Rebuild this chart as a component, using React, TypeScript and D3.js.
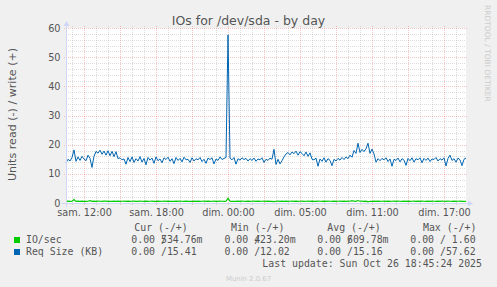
import React from 'react';
import * as d3 from 'd3';

const W = 497;
const H = 287;
const TITLE = 'IOs for /dev/sda - by day';
const Y_LABEL = 'Units read (-) / write (+)';
const START_HOUR = -1.5; // hours relative to "sam. 12:00"
const STEP_HOURS = 1 / 6;
const END_HOUR = 31.8333;

const reqSizeWrite = [
  13.8, 15.0, 14.4, 15.6, 18.2, 14.3, 15.8, 14.6, 16.0, 15.1,
  14.5, 16.4, 15.3, 12.2, 16.0, 17.7, 17.1, 18.1, 16.7, 17.8,
  16.4, 17.9, 16.2, 17.7, 15.9, 17.6, 15.2, 15.5, 14.8, 15.1,
  13.3, 15.6, 14.2, 15.8, 13.9, 15.2, 14.4, 15.9, 14.0, 15.3,
  13.1, 15.6, 14.7, 15.4, 13.6, 15.8, 14.5, 15.1, 13.8, 15.5,
  14.9, 15.7, 14.3, 15.2, 13.5, 15.6, 14.6, 15.3, 14.1, 15.7,
  14.8, 15.0, 13.9, 15.5, 14.4, 15.2, 14.8, 15.6, 14.2, 15.0,
  13.6, 15.4, 14.9, 15.5, 13.4, 15.1, 14.6, 15.8, 14.9, 15.3,
  15.6, 57.62, 15.4, 14.8, 15.6, 13.3, 15.2, 14.7, 15.5, 14.9,
  15.3, 14.4, 15.2, 14.6, 15.4, 14.3, 15.1, 14.8, 15.5, 13.9,
  15.0, 14.6, 15.4, 15.0, 18.4, 13.2, 15.0, 13.4, 14.5, 15.8,
  16.8, 17.3, 16.5, 17.5, 16.9, 17.8, 16.4, 17.6, 17.0, 16.2,
  17.5, 16.0, 17.2, 15.0, 14.8, 15.4, 12.6, 15.1, 14.3, 15.5,
  14.0, 15.2, 14.6, 12.8, 15.0, 14.4, 15.3, 14.7, 15.6, 14.9,
  15.8, 15.2, 16.4, 15.7, 18.0, 17.0, 20.5, 17.3, 18.4, 17.6,
  18.6, 20.5, 17.0, 18.5, 16.8, 14.0, 15.2, 14.5, 15.3, 14.8,
  15.5, 14.2, 15.1, 12.6, 15.0, 14.6, 15.4, 14.1, 15.2, 14.7,
  12.9, 15.3, 14.5, 15.5, 14.0, 15.2, 14.8, 15.5, 13.8, 15.3,
  14.6, 15.4, 14.2, 15.1, 14.9, 15.6, 14.4, 15.2, 14.7, 15.5,
  12.7, 15.3, 16.4, 14.6, 15.2, 14.0, 15.4, 14.8, 12.8, 15.0,
  15.41,
];

const ioWrite = [
  0.58, 0.62, 0.55, 0.60, 1.20, 0.57, 0.61, 0.56, 0.63, 0.59,
  0.55, 0.60, 0.78, 0.57, 0.62, 0.59, 0.64, 0.60, 0.57, 0.61,
  0.63, 0.58, 0.60, 0.56, 0.62, 0.59, 0.61, 0.57, 0.60, 0.63,
  0.58, 0.61, 0.56, 0.60, 0.62, 0.57, 0.59, 0.63, 0.60, 0.58,
  0.61, 0.56, 0.60, 0.62, 0.58, 0.59, 0.63, 0.57, 0.60, 0.61,
  0.58, 0.62, 0.56, 0.60, 0.59, 0.63, 0.57, 0.61, 0.60, 0.58,
  0.62, 0.57, 0.60, 0.59, 0.61, 0.56, 0.63, 0.58, 0.60, 0.62,
  0.57, 0.61, 0.59, 0.60, 0.63, 0.58, 0.56, 0.62, 0.60, 0.59,
  0.61, 1.60, 0.62, 0.58, 0.60, 0.57, 0.61, 0.59, 0.63, 0.60,
  0.58, 0.62, 0.57, 0.60, 0.61, 0.59, 0.63, 0.56, 0.60, 0.62,
  0.58, 0.61, 0.59, 0.57, 0.46, 0.60, 0.62, 0.58, 0.61, 0.59,
  0.63, 0.57, 0.60, 0.62, 0.58, 0.61, 0.59, 0.60, 0.63, 0.57,
  0.60, 0.62, 0.58, 0.61, 0.59, 0.56, 0.63, 0.60, 0.58, 0.62,
  0.57, 0.61, 0.60, 0.59, 0.62, 0.58, 0.60, 0.63, 0.57, 0.61,
  0.59, 0.62, 0.60, 0.82, 0.61, 0.58, 0.85, 0.60, 0.63, 0.59,
  0.61, 0.42, 0.60, 0.58, 0.62, 0.59, 0.61, 0.57, 0.60, 0.63,
  0.58, 0.61, 0.59, 0.60, 0.62, 0.57, 0.61, 0.60, 0.58, 0.63,
  0.59, 0.61, 0.57, 0.60, 0.62, 0.58, 0.61, 0.59, 0.63, 0.60,
  0.57, 0.62, 0.59, 0.61, 0.60, 0.58, 0.63, 0.59, 0.61, 0.60,
  0.58, 0.62, 0.60, 0.59, 0.61, 0.57, 0.60, 0.62, 0.58, 0.55,
  0.53,
];

const yTicks = [0, 10, 20, 30, 40, 50, 60];
const xLabelHours = [0, 6, 12, 18, 24, 30];
const xLabels = ['sam. 12:00', 'sam. 18:00', 'dim. 00:00', 'dim. 05:00', 'dim. 11:00', 'dim. 17:00'];

const legendHeaders = ['Cur (-/+)', 'Min (-/+)', 'Avg (-/+)', 'Max (-/+)'];
const seriesNames = ['IO/sec', 'Req Size (KB)'];
const seriesColors = ['#00CC00', '#0066B3'];
const readValues = [
  ['0.00', '0.00', '0.00', '0.00'],
  ['0.00', '0.00', '0.00', '0.00'],
];
const writeValues = [
  ['534.76m', '423.20m', '609.78m', '1.60'],
  ['15.41', '12.02', '15.16', '57.62'],
];
const LAST_UPDATE = 'Last update: Sun Oct 26 18:45:24 2025';
const MUNIN = 'Munin 2.0.67';
const RRD_MARK = 'RRDTOOL / TOBI OETIKER';

// layout
const L = 66, R = 466, T = 28, B = 203;
const FONT = 'DejaVu Sans, sans-serif';
const MONO = 'DejaVu Sans Mono, monospace';
const TXT = '#555';
const AXIS = '#CFD6F8';
const CW = 5.94;
const headerX = [134.3, 231, 327.3, 423];
const valueX = [131.3, 224.5, 317.3, 410.3];
const NB = '\u00A0';

function splitValue(v: string) {
  const m = v.match(/^([\d.]+)(\D*)$/);
  return m ? { num: m[1], suffix: m[2] } : { num: v, suffix: '' };
}

export default function App() {
  const x = d3.scaleLinear().domain([START_HOUR, END_HOUR]).range([L, R]);
  const y = d3.scaleLinear().domain([0, 60]).range([B, T]);

  const line = d3
    .line<number>()
    .x((_, i) => x(START_HOUR + i * STEP_HOURS))
    .y((d) => y(d));

  const minorX: number[] = [];
  const majorX: number[] = [];
  for (let h = Math.ceil(START_HOUR); h <= END_HOUR; h++) {
    if (h % 3 === 0) majorX.push(h);
    else minorX.push(h);
  }
  const minorY = d3.range(2, 60, 2).filter((v) => v % 10 !== 0);
  const px = (v: number) => Math.round(v) + 0.5;

  const renderValue = (rv: string, wv: string, vx: number, vy: number, key: string) => {
    const { num, suffix } = splitValue(wv);
    if (num.length < 6) {
      return (
        <text key={key} x={vx} y={vy}>
          {rv + NB + '/' + num.padStart(5, NB) + suffix}
        </text>
      );
    }
    // number fills the 6-char field and overprints the slash, as in the original
    return (
      <g key={key}>
        <text x={vx} y={vy}>
          {rv + NB + '/'}
        </text>
        <text x={vx + 5 * CW} y={vy}>
          {num + suffix}
        </text>
      </g>
    );
  };

  return (
    <svg
      width={W}
      height={H}
      style={{ position: 'absolute', left: 0, top: 0, display: 'block' }}
      xmlns="http://www.w3.org/2000/svg"
    >
      <rect x={0} y={0} width={W} height={H} fill="#F0F0F0" />
      <rect x={L} y={T} width={R - L} height={B - T} fill="#FFFFFF" />

      {/* minor grid */}
      <g stroke="rgba(150,150,150,0.32)" strokeDasharray="1,1" shapeRendering="crispEdges" strokeWidth={1}>
        {minorX.map((h) => (
          <line key={'mx' + h} x1={px(x(h))} x2={px(x(h))} y1={T - 2} y2={B + 2} />
        ))}
        {minorY.map((v) => (
          <line key={'my' + v} x1={L} x2={R} y1={px(y(v))} y2={px(y(v))} />
        ))}
      </g>
      {/* major grid */}
      <g stroke="rgba(225,80,80,0.33)" strokeDasharray="1,1" shapeRendering="crispEdges" strokeWidth={1}>
        {majorX.map((h) => (
          <line key={'Mx' + h} x1={px(x(h))} x2={px(x(h))} y1={T - 2} y2={B + 3} />
        ))}
        {yTicks.map((v) => (
          <line key={'My' + v} x1={L - 2} x2={R + 2} y1={px(y(v))} y2={px(y(v))} />
        ))}
      </g>

      {/* data lines */}
      <path d={line(ioWrite) || ''} fill="none" stroke={seriesColors[0]} strokeWidth={1.2} />
      <path d={line(reqSizeWrite) || ''} fill="none" stroke={seriesColors[1]} strokeWidth={1} />

      {/* axes */}
      <g stroke={AXIS} strokeWidth={1} shapeRendering="crispEdges">
        <line x1={L - 4} x2={R + 4} y1={B + 0.5} y2={B + 0.5} />
        <line x1={L + 0.5} x2={L + 0.5} y1={B + 4} y2={T - 4} />
      </g>
      <polygon points={`${R + 2},${B - 2.5} ${R + 2},${B + 3.5} ${R + 7},${B + 0.5}`} fill={AXIS} />
      <polygon points={`${L - 2.5},${T - 2} ${L + 3.5},${T - 2} ${L + 0.5},${T - 7}`} fill={AXIS} />

      {/* y tick labels */}
      {yTicks.map((v) => (
        <text key={'yt' + v} x={60.5} y={y(v) + 3.6} textAnchor="end" fontFamily={FONT} fontSize={9.72} fill={TXT}>
          {v}
        </text>
      ))}
      {/* x labels */}
      {xLabelHours.map((h, i) => (
        <text key={'xl' + h} x={x(h) + 0.5} y={216} textAnchor="middle" fontFamily={FONT} fontSize={9.72} fill={TXT}>
          {xLabels[i]}
        </text>
      ))}

      {/* title */}
      <text x={W / 2} y={24.5} textAnchor="middle" fontFamily={FONT} fontSize={12.5} fill={TXT}>
        {TITLE}
      </text>
      {/* y axis label */}
      <text
        transform="translate(15.5,114.5) rotate(-90)"
        textAnchor="middle"
        fontFamily={FONT}
        fontSize={11.1}
        fill={TXT}
      >
        {Y_LABEL}
      </text>
      {/* watermark right */}
      <text transform="translate(485,5) rotate(90)" fontFamily={FONT} fontSize={7.5} fill="#cccccc">
        {RRD_MARK}
      </text>

      {/* legend */}
      <g fontFamily={MONO} fontSize={9.87} fill={TXT}>
        {legendHeaders.map((hd, i) => (
          <text key={'hd' + i} x={headerX[i]} y={231}>
            {hd}
          </text>
        ))}
        {seriesNames.map((name, r) => (
          <g key={'row' + r}>
            <rect x={14} y={237 + r * 12} width={6} height={6} fill={seriesColors[r]} />
            <text x={26} y={243 + r * 12}>
              {name}
            </text>
            {readValues[r].map((rv, c) =>
              renderValue(rv, writeValues[r][c], valueX[c], 243 + r * 12, 'v' + r + '-' + c)
            )}
          </g>
        ))}
        <text x={482} y={267} textAnchor="end">
          {LAST_UPDATE}
        </text>
      </g>
      <text x={W / 2} y={281} textAnchor="middle" fontFamily={FONT} fontSize={6.9} fill="#cccccc">
        {MUNIN}
      </text>
    </svg>
  );
}
